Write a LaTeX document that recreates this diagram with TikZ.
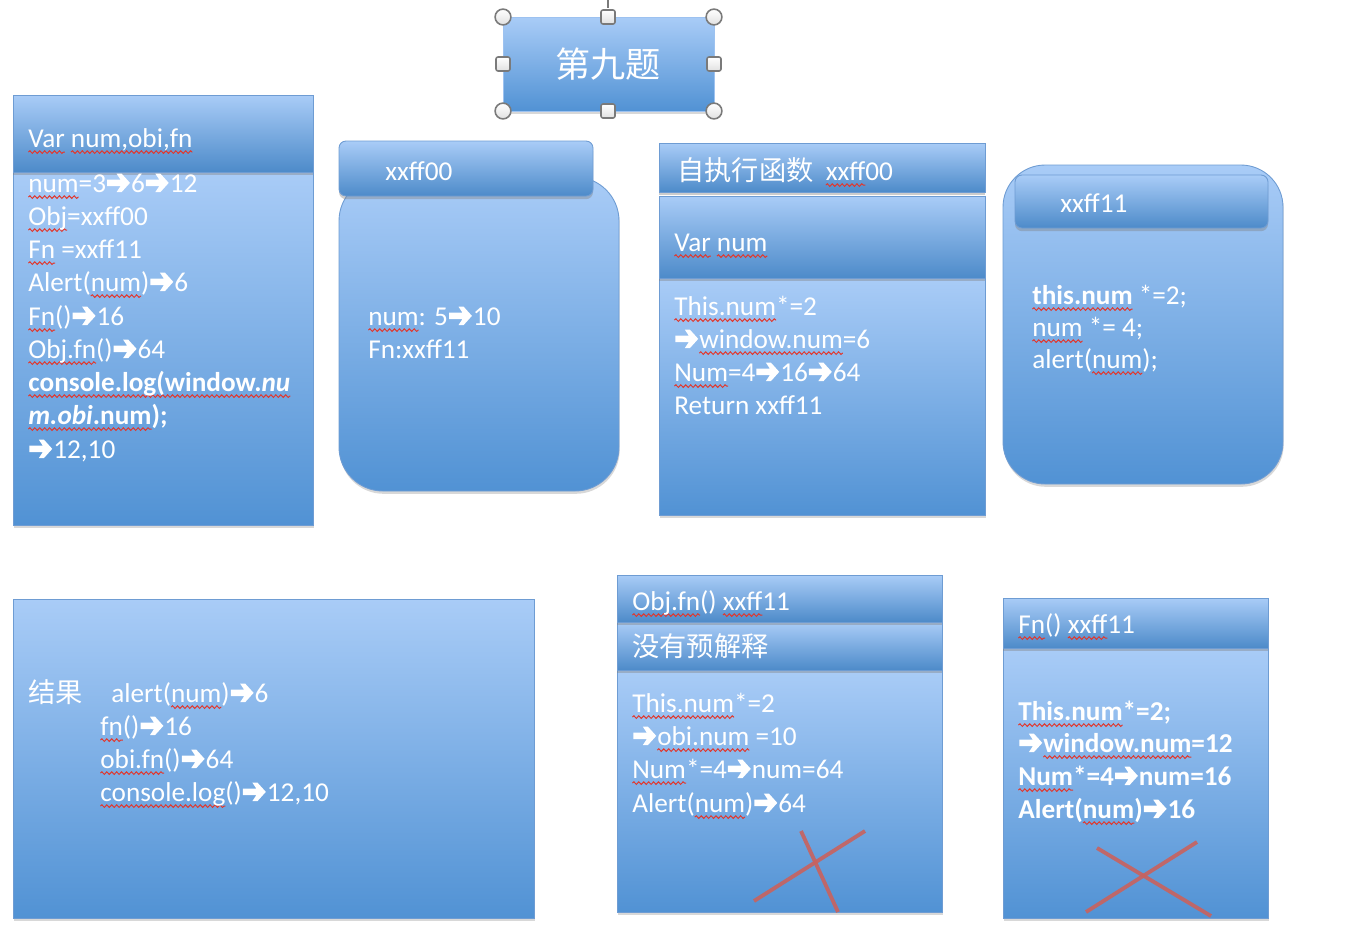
\documentclass[tikz,border=0pt]{standalone}
\usepackage{fontspec}
\setmainfont{Carlito}
\newfontfamily\cjk{Noto Sans CJK SC}
\usetikzlibrary{shadows,fit,decorations.pathmorphing}
\definecolor{ltop}{HTML}{A9CCF7}
\definecolor{lbot}{HTML}{5192D4}
\definecolor{bord}{HTML}{6E9CD3}
\definecolor{sqred}{HTML}{E2362B}
\definecolor{xred}{HTML}{C9625E}
\definecolor{hgray}{HTML}{7A7A7A}
\newsavebox\sqbox
\newdimen\sqw
\newcommand\sq[1]{\sbox\sqbox{#1}\sqw=\wd\sqbox\rlap{\tikz[overlay,baseline=0pt]\draw[sqred,line width=0.55pt,decorate,decoration={snake,amplitude=0.75pt,segment length=2.8pt}] (0pt,-2.9pt) -- (\sqw,-2.9pt);}\usebox\sqbox\relax}
\newcommand\ar{\kern0.6pt\tikz[baseline=0pt]\fill[white] (0pt,3.3pt) -- (7.6pt,3.3pt) -- (5.4pt,0pt) -- (8.3pt,0pt) -- (13pt,5.2pt) -- (8.3pt,10.4pt) -- (5.4pt,10.4pt) -- (7.6pt,7.1pt) -- (0pt,7.1pt) -- cycle;\kern0.6pt\relax}
\newcommand\bodyfont{\fontsize{15.5}{18.6}\selectfont}
\tikzset{
  panel/.style={draw=bord, line width=0.5pt, top color=ltop, bottom color=lbot, inner sep=0pt,
    drop shadow={shadow xshift=0.4pt, shadow yshift=-1.6pt, opacity=0.3}},
  band/.style={draw=bord, line width=0.5pt, top color=ltop, bottom color=lbot!95!black, inner sep=0pt,
    drop shadow={shadow xshift=0pt, shadow yshift=-1.8pt, opacity=0.4}},
  txt/.style={anchor=base west, inner sep=0pt, text=white, font=\bodyfont},
  cbox/.style={circle, draw=hgray, line width=0.9pt, top color=white, bottom color=black!12, minimum size=9pt, inner sep=0pt},
  sbox/.style={rectangle, rounded corners=1.2pt, draw=hgray, line width=0.9pt, top color=white, bottom color=black!12, minimum size=8pt, inner sep=0pt},
  xline/.style={draw=xred, line width=2.2pt, opacity=0.9}
}
\begin{document}
\begin{tikzpicture}[x=0.02cm, y=-0.02cm]
\useasboundingbox (0,0) rectangle (1372,934);
\fill[white] (0,0) rectangle (1372,934);

% ---------- title ----------
\draw[hgray, line width=0.8pt] (608,0) -- (608,8);
\node[panel, draw=ltop!80!bord, fit={(503,17) (714,111)}] (title) {};
\node[text=white, font=\cjk\fontsize{20}{24}\selectfont] (titletxt) at (608,64) {第九题};
\node[cbox] (hc1) at (503,17) {};
\node[cbox] (hc2) at (714,17) {};
\node[cbox] (hc3) at (503,111) {};
\node[cbox] (hc4) at (714,111) {};
\node[sbox] (hs1) at (608,17) {};
\node[sbox] (hs2) at (608,111) {};
\node[sbox] (hs3) at (503,64) {};
\node[sbox] (hs4) at (714,64) {};

% ---------- box 1 ----------
\node[panel, fit={(13,170) (313,525)}] (b1) {};
\node[band, fit={(13,95) (313,172)}] (b1h) {};
\node[txt] (b1t0) at (28,147) {\sq{Var} \sq{num,obi,fn}};
\node[txt] (b1t1) at (28,192) {\sq{num}=3\ar6\ar12};
\node[txt] (b1t2) at (28,225) {\sq{Obj}=xxff00};
\node[txt] (b1t3) at (28,258) {\sq{Fn} =xxff11};
\node[txt] (b1t4) at (28,291) {Alert(\sq{num})\ar6};
\node[txt] (b1t5) at (28,325) {\sq{Fn}()\ar16};
\node[txt] (b1t6) at (28,358) {\sq{Obj.fn}()\ar64};
\node[txt] (b1t7) at (28,391) {\textbf{\sq{console.log(window.\textit{nu}}}};
\node[txt] (b1t8) at (28,424) {\textbf{\sq{\textit{m.obi}.num});}};
\node[txt] (b1t9) at (28,458) {\ar12,10};

% ---------- box 2 ----------
\node[panel, rounded corners=25pt, fit={(339,177) (619,491)}] (b2) {};
\node[band, rounded corners=4pt, fit={(339,141) (593,196)}] (b2h) {};
\node[txt] (b2t0) at (385,180) {xxff00};
\node[txt] (b2t1) at (368,325) {\sq{num}: 5\ar10};
\node[txt] (b2t2) at (368,358) {Fn:xxff11};

% ---------- box 3 ----------
\node[panel, fit={(659,278) (985,515)}] (b3) {};
\node[band, fit={(659,196) (985,278)}] (b3h2) {};
\node[band, fit={(659,143) (985,192)}] (b3h1) {};
\node[txt] (b3t0) at (677,180) {{\cjk 自执行函数}\ \ \sq{xxff}00};
\node[txt] (b3t1) at (674,251) {\sq{Var} \sq{num}};
\node[txt] (b3t2) at (674,315) {\sq{This.num}*=2};
\node[txt] (b3t3) at (674,348) {\ar\sq{window.num}=6};
\node[txt] (b3t4) at (674,381) {\sq{Num}=4\ar16\ar64};
\node[txt] (b3t5) at (674,414) {Return xxff11};

% ---------- box 4 ----------
\node[panel, rounded corners=24pt, fit={(1003,165) (1283,484)}] (b4) {};
\node[band, rounded corners=4pt, fit={(1015,175) (1268,228)}] (b4h) {};
\node[txt] (b4t0) at (1060,212) {xxff11};
\node[txt] (b4t1) at (1032,304) {\textbf{\sq{this.num}} *=2;};
\node[txt] (b4t2) at (1032,336) {\sq{num} *= 4;};
\node[txt] (b4t3) at (1032,368) {alert(\sq{num});};

% ---------- box 5 ----------
\node[panel, fit={(13,599) (534,918)}] (b5) {};
\node[txt, font=\cjk\bodyfont] (b5t0) at (28,702) {结果};
\node[txt] (b5t1) at (111,702) {alert(\sq{num})\ar6};
\node[txt] (b5t2) at (100,735) {\sq{fn}()\ar16};
\node[txt] (b5t3) at (100,768) {\sq{obi.fn}()\ar64};
\node[txt] (b5t4) at (100,801) {\sq{console.log}()\ar12,10};

% ---------- box 6 ----------
\node[panel, fit={(617,670) (942,912)}] (b6) {};
\node[band, fit={(617,622) (942,670)}] (b6h2) {};
\node[band, fit={(617,575) (942,622)}] (b6h1) {};
\node[txt] (b6t0) at (632,610) {\sq{Obj.fn}() \sq{xxff}11};
\node[txt, font=\cjk\bodyfont] (b6t1) at (632,656) {没有预解释};
\node[txt] (b6t2) at (632,712) {\sq{This.num}*=2};
\node[txt] (b6t3) at (632,745) {\ar\sq{obi.num} =10};
\node[txt] (b6t4) at (632,778) {\sq{Num}*=4\ar num=64};
\node[txt] (b6t5) at (632,812) {Alert(\sq{num})\ar64};
\draw[xline] (754,901) -- (865,831);
\draw[xline] (801,831) -- (838,912);

% ---------- box 7 ----------
\node[panel, fit={(1003,648) (1268,918)}] (b7) {};
\node[band, fit={(1003,598) (1268,648)}] (b7h) {};
\node[txt] (b7t0) at (1018,633) {\sq{Fn}() \sq{xxff}11};
\node[txt] (b7t1) at (1018,720) {\textbf{\sq{This.num}*=2;}};
\node[txt] (b7t2) at (1018,752) {\textbf{\ar\sq{window.num}=12}};
\node[txt] (b7t3) at (1018,785) {\textbf{\sq{Num}*=4\ar num=16}};
\node[txt] (b7t4) at (1018,818) {\textbf{Alert(\sq{num})\ar16}};
\draw[xline] (1097,848) -- (1211,916);
\draw[xline] (1086,912) -- (1197,842);
\end{tikzpicture}
\end{document}
